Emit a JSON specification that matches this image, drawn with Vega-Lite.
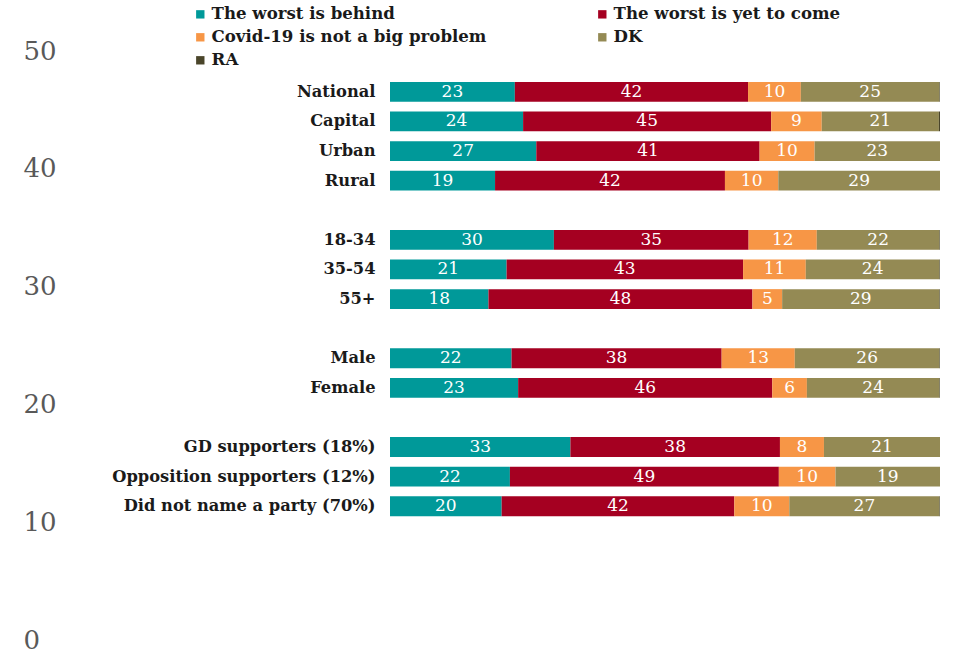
{
  "$schema": "https://vega.github.io/schema/vega-lite/v6.json",
  "width": 550,
  "height": 589,
  "autosize": {"type": "none"},
  "padding": {"left": 390, "top": 51, "right": 13, "bottom": 13},
  "background": "white",
  "config": {
    "view": {"stroke": null},
    "font": "DejaVu Serif",
    "legend": {
      "orient": "none",
      "legendX": -198,
      "legendY": -45,
      "columns": 2,
      "direction": "horizontal",
      "columnPadding": 107,
      "rowPadding": 6,
      "padding": 0,
      "symbolType": "square",
      "symbolSize": 70,
      "symbolStrokeWidth": 0,
      "labelFont": "DejaVu Serif",
      "labelFontWeight": "bold",
      "labelFontSize": 16.6,
      "labelColor": "#1a1a1a",
      "labelOffset": 3,
      "labelLimit": 400,
      "title": null
    }
  },
  "data": {
    "values": [
      {"group": "National", "answer": "The worst is behind", "value": 22.7},
      {"group": "National", "answer": "The worst is yet to come", "value": 42.4},
      {"group": "National", "answer": "Covid-19 is not a big problem", "value": 9.6},
      {"group": "National", "answer": "DK", "value": 25.2},
      {"group": "National", "answer": "RA", "value": 0.1},
      {"group": "Capital", "answer": "The worst is behind", "value": 24.2},
      {"group": "Capital", "answer": "The worst is yet to come", "value": 45.1},
      {"group": "Capital", "answer": "Covid-19 is not a big problem", "value": 9.2},
      {"group": "Capital", "answer": "DK", "value": 21.3},
      {"group": "Capital", "answer": "RA", "value": 0.2},
      {"group": "Urban", "answer": "The worst is behind", "value": 26.6},
      {"group": "Urban", "answer": "The worst is yet to come", "value": 40.6},
      {"group": "Urban", "answer": "Covid-19 is not a big problem", "value": 10.0},
      {"group": "Urban", "answer": "DK", "value": 22.8},
      {"group": "Urban", "answer": "RA", "value": 0.0},
      {"group": "Rural", "answer": "The worst is behind", "value": 19.1},
      {"group": "Rural", "answer": "The worst is yet to come", "value": 41.8},
      {"group": "Rural", "answer": "Covid-19 is not a big problem", "value": 9.7},
      {"group": "Rural", "answer": "DK", "value": 29.4},
      {"group": "Rural", "answer": "RA", "value": 0.0},
      {"group": "18-34", "answer": "The worst is behind", "value": 29.8},
      {"group": "18-34", "answer": "The worst is yet to come", "value": 35.4},
      {"group": "18-34", "answer": "Covid-19 is not a big problem", "value": 12.4},
      {"group": "18-34", "answer": "DK", "value": 22.3},
      {"group": "18-34", "answer": "RA", "value": 0.1},
      {"group": "35-54", "answer": "The worst is behind", "value": 21.2},
      {"group": "35-54", "answer": "The worst is yet to come", "value": 43.0},
      {"group": "35-54", "answer": "Covid-19 is not a big problem", "value": 11.4},
      {"group": "35-54", "answer": "DK", "value": 24.3},
      {"group": "35-54", "answer": "RA", "value": 0.1},
      {"group": "55+", "answer": "The worst is behind", "value": 17.9},
      {"group": "55+", "answer": "The worst is yet to come", "value": 48.0},
      {"group": "55+", "answer": "Covid-19 is not a big problem", "value": 5.4},
      {"group": "55+", "answer": "DK", "value": 28.6},
      {"group": "55+", "answer": "RA", "value": 0.1},
      {"group": "Male", "answer": "The worst is behind", "value": 22.1},
      {"group": "Male", "answer": "The worst is yet to come", "value": 38.2},
      {"group": "Male", "answer": "Covid-19 is not a big problem", "value": 13.3},
      {"group": "Male", "answer": "DK", "value": 26.3},
      {"group": "Male", "answer": "RA", "value": 0.1},
      {"group": "Female", "answer": "The worst is behind", "value": 23.3},
      {"group": "Female", "answer": "The worst is yet to come", "value": 46.2},
      {"group": "Female", "answer": "Covid-19 is not a big problem", "value": 6.3},
      {"group": "Female", "answer": "DK", "value": 24.1},
      {"group": "Female", "answer": "RA", "value": 0.1},
      {"group": "GD supporters (18%)", "answer": "The worst is behind", "value": 32.8},
      {"group": "GD supporters (18%)", "answer": "The worst is yet to come", "value": 38.1},
      {"group": "GD supporters (18%)", "answer": "Covid-19 is not a big problem", "value": 8.0},
      {"group": "GD supporters (18%)", "answer": "DK", "value": 21.1},
      {"group": "GD supporters (18%)", "answer": "RA", "value": 0.0},
      {"group": "Opposition supporters (12%)", "answer": "The worst is behind", "value": 21.8},
      {"group": "Opposition supporters (12%)", "answer": "The worst is yet to come", "value": 48.9},
      {"group": "Opposition supporters (12%)", "answer": "Covid-19 is not a big problem", "value": 10.3},
      {"group": "Opposition supporters (12%)", "answer": "DK", "value": 19.0},
      {"group": "Opposition supporters (12%)", "answer": "RA", "value": 0.0},
      {"group": "Did not name a party (70%)", "answer": "The worst is behind", "value": 20.3},
      {"group": "Did not name a party (70%)", "answer": "The worst is yet to come", "value": 42.3},
      {"group": "Did not name a party (70%)", "answer": "Covid-19 is not a big problem", "value": 10.0},
      {"group": "Did not name a party (70%)", "answer": "DK", "value": 27.3},
      {"group": "Did not name a party (70%)", "answer": "RA", "value": 0.1}
    ]
  },
  "transform": [
    {"calculate": "indexof(['The worst is behind','The worst is yet to come','Covid-19 is not a big problem','DK','RA'], datum.answer)", "as": "ord"},
    {"stack": "value", "groupby": ["group"], "sort": [{"field": "ord", "order": "ascending"}], "as": ["x0", "x1"]},
    {"calculate": "(datum.x0 + datum.x1) / 2", "as": "mid"}
  ],
  "layer": [
    {
      "encoding": {
        "y": {
          "field": "group",
          "type": "nominal",
          "scale": {
            "domain": ["National", "Capital", "Urban", "Rural", " ", "18-34", "35-54", "55+", "  ", "Male", "Female", "   ", "GD supporters (18%)", "Opposition supporters (12%)", "Did not name a party (70%)", "    ", "     ", "      ", "       "],
            "paddingInner": 0.33,
            "paddingOuter": 0.615,
            "align": 0.85
          },
          "axis": {
            "orient": "left",
            "title": null,
            "ticks": false,
            "domain": false,
            "grid": false,
            "labelPadding": 15,
            "labelFont": "DejaVu Serif",
            "labelFontWeight": "bold",
            "labelFontSize": 16.3,
            "labelColor": "#1a1a1a",
            "labelLimit": 400
          }
        }
      },
      "layer": [
        {
          "mark": {"type": "bar"},
          "encoding": {
            "x": {"field": "x0", "type": "quantitative", "scale": {"domain": [0, 100], "nice": false}, "axis": null},
            "x2": {"field": "x1"},
            "color": {
              "field": "answer",
              "type": "nominal",
              "scale": {
                "domain": ["The worst is behind", "The worst is yet to come", "Covid-19 is not a big problem", "DK", "RA"],
                "range": ["#009999", "#A50021", "#F79646", "#948A54", "#4A452A"]
              }
            }
          }
        },
        {
          "transform": [{"filter": "datum.value >= 3"}],
          "mark": {"type": "text", "color": "white", "fontSize": 17, "font": "DejaVu Serif", "baseline": "middle", "align": "center"},
          "encoding": {
            "x": {"field": "mid", "type": "quantitative"},
            "text": {"field": "value", "type": "quantitative", "format": ".0f"}
          }
        }
      ]
    },
    {
      "mark": {"type": "point", "opacity": 0},
      "encoding": {
        "y": {
          "field": "value",
          "type": "quantitative",
          "scale": {"domain": [0, 50], "nice": false, "zero": true},
          "axis": {
            "orient": "left",
            "offset": 367,
            "title": null,
            "ticks": false,
            "domain": false,
            "grid": false,
            "values": [0, 10, 20, 30, 40, 50],
            "labelPadding": 0,
            "labelAlign": "left",
            "labelFont": "DejaVu Serif",
            "labelFontSize": 26,
            "labelColor": "#595959"
          }
        }
      }
    }
  ],
  "resolve": {"scale": {"y": "independent"}, "axis": {"y": "independent"}}
}
